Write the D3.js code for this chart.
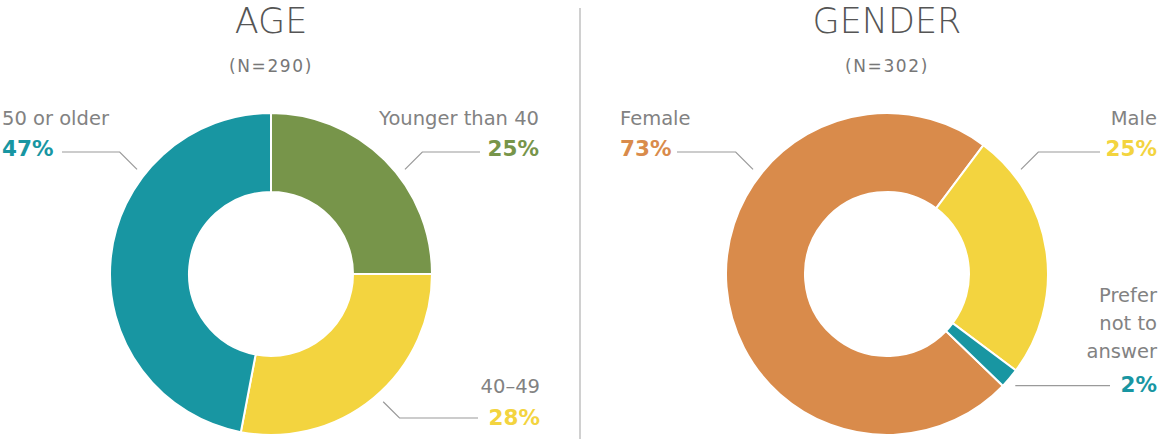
<!DOCTYPE html>
<html lang="en">
<head>
    <meta charset="UTF-8">
    <title>Age and Gender</title>
    <script src="https://d3js.org/d3.v7.min.js"></script>
    <style>
        body {
            margin: 0;
            padding: 0;
            background-color: #fff;
        }
        svg text {
            font-family: "DejaVu Sans", sans-serif;
        }
        .title {
            font-size: 35px;
            font-weight: 200;
            fill: #555;
        }
        .subtitle {
            font-size: 17px;
            fill: #777;
            letter-spacing: 1.6px;
        }
        .cat {
            font-size: 19.5px;
            fill: #828282;
        }
        .pct {
            font-size: 21.5px;
            font-weight: bold;
        }
        .leader {
            fill: none;
            stroke: #9a9a9a;
            stroke-width: 1.2;
        }
    </style>
</head>
<body>
    <svg id="chart" width="1159" height="439"></svg>

    <script>
        // data
        var ageCats = ["Younger than 40", "40\u201349", "50 or older"];
        var ageVals = [25, 28, 47];
        var ageColors = ["#77954a", "#f3d43f", "#1896a2"];

        var genderCats = ["Female", "Male", "Prefer not to answer"];
        var genderVals = [73, 25, 2];
        var genderColors = ["#d98b4b", "#f3d43f", "#1896a2"];

        var titles = ["AGE", "GENDER"];
        var subtitles = ["(N=290)", "(N=302)"];

        var svg = d3.select("#chart");
        var outerR = 161, innerR = 82;
        var rad = Math.PI / 180;

        // label layout per slice: leader angle (deg), elbow y, line end x, text lines
        var ageLabels = [
            {angle: 52, elbowY: 152, endX: 480, side: "right", textX: 539, lines: ["Younger than 40"], lineY: 125, pctY: 156},
            {angle: 138.7, elbowY: 418, endX: 478, side: "right", textX: 540, lines: ["40\u201349"], lineY: 393, pctY: 425},
            {angle: -52, elbowY: 152, endX: 62, side: "left", textX: 2, lines: ["50 or older"], lineY: 125, pctY: 156}
        ];
        var genderLabels = [
            {angle: -52, elbowY: 152, endX: 677, side: "left", textX: 620, lines: ["Female"], lineY: 125, pctY: 156},
            {angle: 52, elbowY: 152, endX: 1100, side: "right", textX: 1157, lines: ["Male"], lineY: 125, pctY: 156},
            {angle: 131, elbowY: null, endX: 1110, side: "right", textX: 1157, lines: ["Prefer", "not to", "answer"], lineY: 302, pctY: 392}
        ];

        var charts = [
            {cx: 271, cy: 274, cats: ageCats, vals: ageVals, colors: ageColors, start: 0, labels: ageLabels},
            {cx: 887, cy: 274, cats: genderCats, vals: genderVals, colors: genderColors, start: -226, labels: genderLabels}
        ];

        var arc = d3.arc().innerRadius(innerR).outerRadius(outerR);

        // divider
        svg.append("line")
            .attr("x1", 580).attr("x2", 580)
            .attr("y1", 8).attr("y2", 439)
            .attr("stroke", "#d0d0d0")
            .attr("stroke-width", 2);

        charts.forEach(function(c, i) {
            var g = svg.append("g");

            g.append("text").attr("class", "title")
                .attr("x", c.cx).attr("y", 33)
                .attr("text-anchor", "middle")
                .text(titles[i]);

            g.append("text").attr("class", "subtitle")
                .attr("x", c.cx).attr("y", 72)
                .attr("text-anchor", "middle")
                .text(subtitles[i]);

            var pie = d3.pie().sort(null)
                .startAngle(c.start * rad)
                .endAngle(c.start * rad + 2 * Math.PI);

            g.append("g")
                .attr("transform", "translate(" + c.cx + "," + c.cy + ")")
                .selectAll("path")
                .data(pie(c.vals))
                .enter()
                .append("path")
                    .attr("d", arc)
                    .attr("fill", function(d, j) { return c.colors[j]; })
                    .attr("stroke", "#fff")
                    .attr("stroke-width", 2);

            c.labels.forEach(function(l, j) {
                // leader line
                var r = outerR + 9;
                var x0 = c.cx + r * Math.sin(l.angle * rad);
                var y0 = c.cy - r * Math.cos(l.angle * rad);
                var pts = [[x0, y0]];
                if (l.elbowY !== null) {
                    var dy = Math.abs(l.elbowY - y0);
                    var dir = l.side == "right" ? 1 : -1;
                    pts.push([x0 + dir * dy, l.elbowY]);
                    pts.push([l.endX, l.elbowY]);
                } else {
                    pts.push([l.endX, y0]);
                }
                g.append("path").attr("class", "leader")
                    .attr("d", d3.line()(pts));

                var anchor = l.side == "right" ? "end" : "start";
                l.lines.forEach(function(t, k) {
                    g.append("text").attr("class", "cat")
                        .attr("x", l.textX).attr("y", l.lineY + k * 28)
                        .attr("text-anchor", anchor)
                        .text(t);
                });
                g.append("text").attr("class", "pct")
                    .attr("x", l.textX).attr("y", l.pctY)
                    .attr("text-anchor", anchor)
                    .attr("fill", c.colors[j])
                    .text(c.vals[j] + "%");
            });
        });
    </script>
</body>
</html>
